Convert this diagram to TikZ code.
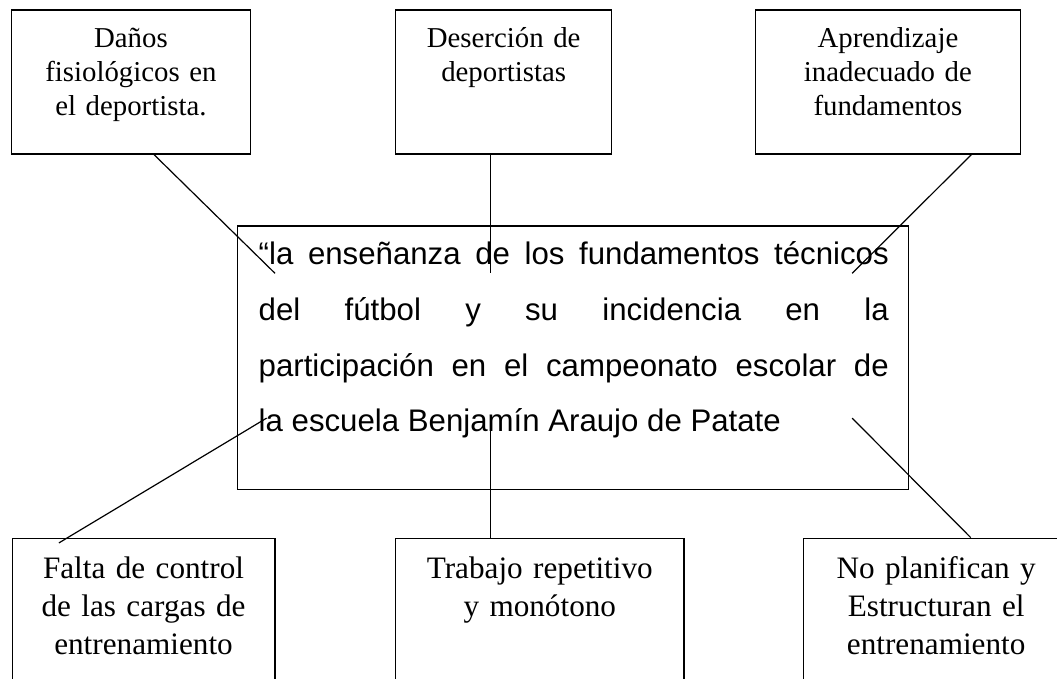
\documentclass[tikz,border=0pt]{standalone}
\usepackage{fontspec}
\setmainfont{Liberation Serif}
\newfontfamily\arialfont{Liberation Sans}
\usetikzlibrary{calc}
\tikzset{
    efecto/.style = {draw, line width=.5pt, anchor=north west, align=center,
        inner xsep=0pt, inner ysep=7.4pt, text height=8.2pt, text depth=37pt,
        font=\fontsize{12pt}{14.2pt}\selectfont},
    causa/.style = {draw, line width=.5pt, anchor=north west, align=center,
        inner xsep=0pt, inner ysep=7.8pt, text height=8.9pt, text depth=35.5pt,
        font=\fontsize{13pt}{15.8pt}\selectfont},
    central/.style = {draw, line width=.5pt, anchor=north west, inner sep=0pt},
    parrafo/.style = {anchor=base west, inner sep=0pt, text width=262.5pt, align=justify,
        font=\arialfont\fontsize{13pt}{23.15pt}\selectfont},
    linea/.style = {draw, line width=.5pt}
}

\begin{document}
\begin{tikzpicture}[x=1pt, y=-1pt]
    \useasboundingbox (0,0) rectangle (440.4,282.5);
    \clip (0,0) rectangle (440.4,282.5);
    \node[efecto, text width=99.4pt] (danos) at (4.6,3.9) {Daños\\fisiológicos en\\el deportista.};
    \node[efecto, text width=90pt] (desercion) at (164.6,3.9) {Deserción de\\deportistas};
    \node[efecto, text width=110.2pt] (aprendizaje) at (314.6,3.9) {Aprendizaje\\inadecuado de\\fundamentos};
    \node[central, minimum width=279.7pt, minimum height=109.9pt] (problema) at (98.6,93.9) {};
    \node[parrafo] (texto) at (107.6,110.4) {\noindent\tolerance=10000\hbadness=10000
        “la enseñanza de los fundamentos técnicos\linebreak
        del fútbol y su incidencia en la\linebreak
        participación en el campeonato escolar de\linebreak
        la escuela Benjamín Araujo de Patate};
    \node[causa, text width=109.5pt] (falta) at (4.8,224) {Falta de control\\de las cargas de\\entrenamiento};
    \node[causa, text width=120.1pt] (trabajo) at (164.6,224) {Trabajo repetitivo\\y monótono};
    \node[causa, text width=110.4pt] (planifican) at (334.6,224) {No planifican y\\Estructuran el\\entrenamiento};
    \coordinate (e1) at ($(problema.north west)+(16,20)$);
    \coordinate (e2) at ($(problema.north west)+(105.8,20)$);
    \coordinate (e3) at ($(problema.north east)+(-23.75,20)$);
    \coordinate (e4) at ($(problema.south west)+(12.5,-30.1)$);
    \coordinate (e5) at ($(problema.south west)+(105.8,-30.1)$);
    \coordinate (e6) at ($(problema.south east)+(-23.75,-30.1)$);
    \draw[linea] ($(danos.south)+(9.6,0)$) -- (e1);
    \draw[linea] (desercion.south -| e2) -- (e2);
    \draw[linea] ($(aprendizaje.south)+(34.8,0)$) -- (e3);
    \draw[linea] ($(falta.north)+(-35.25,2.2)$) -- (e4);
    \draw[linea] (e5) -- (trabajo.north -| e5);
    \draw[linea] (e6) -- ($(planifican.north)+(14.4,0)$);
\end{tikzpicture}
\end{document}
